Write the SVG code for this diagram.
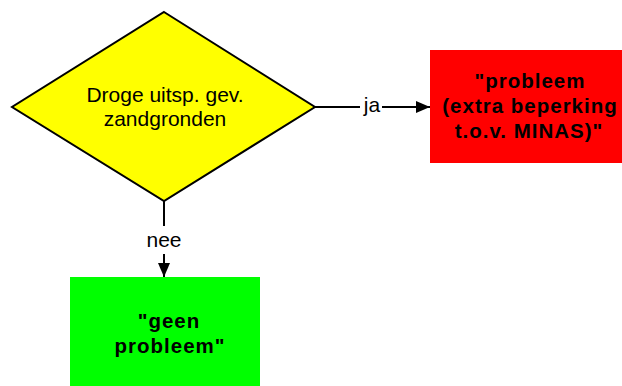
<svg xmlns="http://www.w3.org/2000/svg" width="622" height="386" viewBox="0 0 622 386">
<defs>
<style>
.lbl{font-family:"Liberation Sans",Arial,sans-serif;font-size:21px;fill:#000;text-anchor:middle}
.bold{font-family:"Liberation Sans",Arial,sans-serif;font-size:20.5px;font-weight:bold;fill:#000;text-anchor:middle;letter-spacing:1px}
.edge{stroke:#000;stroke-width:2;fill:none}
</style>
<marker id="arr" markerUnits="userSpaceOnUse" markerWidth="16" markerHeight="14" refX="14" refY="6" orient="auto">
<path d="M0,0 L14,6 L0,12 Z" fill="#000"/>
</marker>
</defs>
<rect width="622" height="386" fill="#fff"/>
<g id="decision">
<polygon points="164,12 315,107 164,201 12,107" fill="#FFFF00" stroke="#000" stroke-width="2"/>
<text class="lbl" x="165" y="102">Droge uitsp. gev.</text>
<text class="lbl" x="165" y="126">zandgronden</text>
</g>
<g id="problem">
<rect x="430" y="50" width="196" height="113" fill="#FF0000"/>
<text class="bold" x="530" y="88">"probleem</text>
<text class="bold" x="530" y="113">(extra beperking</text>
<text class="bold" x="529" y="138">t.o.v. MINAS)"</text>
</g>
<g id="noproblem">
<rect x="70" y="277" width="190" height="111" fill="#00FF00"/>
<text class="bold" x="169" y="328">"geen</text>
<text class="bold" x="170" y="353">probleem"</text>
</g>
<g id="connectors">
<line class="edge" x1="315" y1="107" x2="360" y2="107"/>
<line class="edge" x1="382" y1="107" x2="430" y2="107" marker-end="url(#arr)"/>
<text class="lbl" x="372" y="112">ja</text>
<line class="edge" x1="164" y1="201" x2="164" y2="226"/>
<line class="edge" x1="164" y1="254" x2="164" y2="277" marker-end="url(#arr)"/>
<text class="lbl" x="164" y="247">nee</text>
</g>
</svg>
